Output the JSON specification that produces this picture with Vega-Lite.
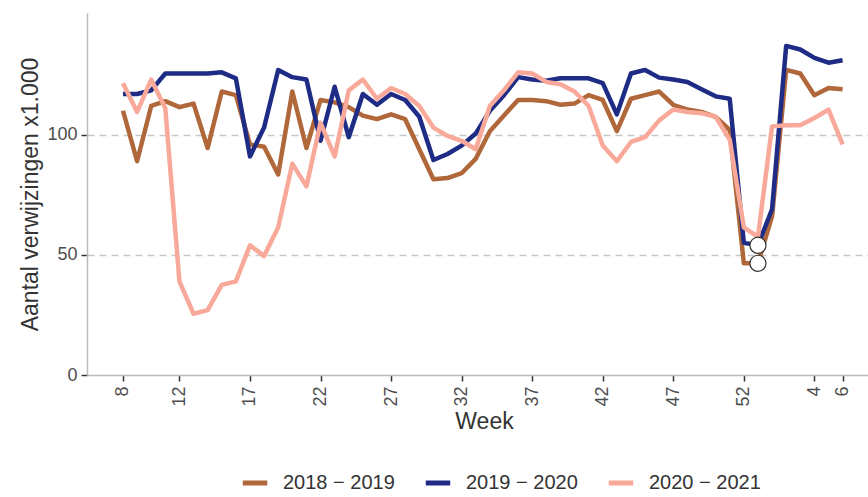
{
  "$schema": "https://vega.github.io/schema/vega-lite/v6.json",
  "width": 781,
  "height": 362,
  "autosize": {"type": "none"},
  "padding": {"left": 87, "top": 13, "right": 0, "bottom": 122},
  "background": "white",
  "config": {
    "view": {"stroke": null},
    "font": "Liberation Sans",
    "axis": {"labelFont": "Liberation Sans", "titleFont": "Liberation Sans", "titleFontWeight": "normal"}
  },
  "datasets": {
    "series": [
      {"season": "2018 − 2019", "i": 0, "week": 8, "value": 110},
      {"season": "2018 − 2019", "i": 1, "week": 9, "value": 89},
      {"season": "2018 − 2019", "i": 2, "week": 10, "value": 112},
      {"season": "2018 − 2019", "i": 3, "week": 11, "value": 114},
      {"season": "2018 − 2019", "i": 4, "week": 12, "value": 111.5},
      {"season": "2018 − 2019", "i": 5, "week": 13, "value": 113},
      {"season": "2018 − 2019", "i": 6, "week": 14, "value": 94.5},
      {"season": "2018 − 2019", "i": 7, "week": 15, "value": 118},
      {"season": "2018 − 2019", "i": 8, "week": 16, "value": 116.5},
      {"season": "2018 − 2019", "i": 9, "week": 17, "value": 96},
      {"season": "2018 − 2019", "i": 10, "week": 18, "value": 95},
      {"season": "2018 − 2019", "i": 11, "week": 19, "value": 83.5},
      {"season": "2018 − 2019", "i": 12, "week": 20, "value": 118},
      {"season": "2018 − 2019", "i": 13, "week": 21, "value": 94.5},
      {"season": "2018 − 2019", "i": 14, "week": 22, "value": 114.5},
      {"season": "2018 − 2019", "i": 15, "week": 23, "value": 113.5},
      {"season": "2018 − 2019", "i": 16, "week": 24, "value": 111.5},
      {"season": "2018 − 2019", "i": 17, "week": 25, "value": 108},
      {"season": "2018 − 2019", "i": 18, "week": 26, "value": 106.5},
      {"season": "2018 − 2019", "i": 19, "week": 27, "value": 108.5},
      {"season": "2018 − 2019", "i": 20, "week": 28, "value": 106.5},
      {"season": "2018 − 2019", "i": 21, "week": 29, "value": 94},
      {"season": "2018 − 2019", "i": 22, "week": 30, "value": 81.5},
      {"season": "2018 − 2019", "i": 23, "week": 31, "value": 82},
      {"season": "2018 − 2019", "i": 24, "week": 32, "value": 84},
      {"season": "2018 − 2019", "i": 25, "week": 33, "value": 90},
      {"season": "2018 − 2019", "i": 26, "week": 34, "value": 101.5},
      {"season": "2018 − 2019", "i": 27, "week": 35, "value": 108},
      {"season": "2018 − 2019", "i": 28, "week": 36, "value": 114.5},
      {"season": "2018 − 2019", "i": 29, "week": 37, "value": 114.5},
      {"season": "2018 − 2019", "i": 30, "week": 38, "value": 114},
      {"season": "2018 − 2019", "i": 31, "week": 39, "value": 112.5},
      {"season": "2018 − 2019", "i": 32, "week": 40, "value": 113},
      {"season": "2018 − 2019", "i": 33, "week": 41, "value": 116.5},
      {"season": "2018 − 2019", "i": 34, "week": 42, "value": 114.5},
      {"season": "2018 − 2019", "i": 35, "week": 43, "value": 101.5},
      {"season": "2018 − 2019", "i": 36, "week": 44, "value": 115},
      {"season": "2018 − 2019", "i": 37, "week": 45, "value": 116.5},
      {"season": "2018 − 2019", "i": 38, "week": 46, "value": 118},
      {"season": "2018 − 2019", "i": 39, "week": 47, "value": 112.5},
      {"season": "2018 − 2019", "i": 40, "week": 48, "value": 110.5},
      {"season": "2018 − 2019", "i": 41, "week": 49, "value": 109.5},
      {"season": "2018 − 2019", "i": 42, "week": 50, "value": 107.5},
      {"season": "2018 − 2019", "i": 43, "week": 51, "value": 102},
      {"season": "2018 − 2019", "i": 44, "week": 52, "value": 46.5},
      {"season": "2018 − 2019", "i": 45, "week": 53, "value": 46.5},
      {"season": "2018 − 2019", "i": 46, "week": 1, "value": 66},
      {"season": "2018 − 2019", "i": 47, "week": 2, "value": 127},
      {"season": "2018 − 2019", "i": 48, "week": 3, "value": 125.5},
      {"season": "2018 − 2019", "i": 49, "week": 4, "value": 116.5},
      {"season": "2018 − 2019", "i": 50, "week": 5, "value": 119.5},
      {"season": "2018 − 2019", "i": 51, "week": 6, "value": 119},
      {"season": "2019 − 2020", "i": 0, "week": 8, "value": 117},
      {"season": "2019 − 2020", "i": 1, "week": 9, "value": 117},
      {"season": "2019 − 2020", "i": 2, "week": 10, "value": 118.5},
      {"season": "2019 − 2020", "i": 3, "week": 11, "value": 125.5},
      {"season": "2019 − 2020", "i": 4, "week": 12, "value": 125.5},
      {"season": "2019 − 2020", "i": 5, "week": 13, "value": 125.5},
      {"season": "2019 − 2020", "i": 6, "week": 14, "value": 125.5},
      {"season": "2019 − 2020", "i": 7, "week": 15, "value": 126},
      {"season": "2019 − 2020", "i": 8, "week": 16, "value": 123.5},
      {"season": "2019 − 2020", "i": 9, "week": 17, "value": 91},
      {"season": "2019 − 2020", "i": 10, "week": 18, "value": 103},
      {"season": "2019 − 2020", "i": 11, "week": 19, "value": 127},
      {"season": "2019 − 2020", "i": 12, "week": 20, "value": 124},
      {"season": "2019 − 2020", "i": 13, "week": 21, "value": 123},
      {"season": "2019 − 2020", "i": 14, "week": 22, "value": 97.5},
      {"season": "2019 − 2020", "i": 15, "week": 23, "value": 120},
      {"season": "2019 − 2020", "i": 16, "week": 24, "value": 99},
      {"season": "2019 − 2020", "i": 17, "week": 25, "value": 117},
      {"season": "2019 − 2020", "i": 18, "week": 26, "value": 112.5},
      {"season": "2019 − 2020", "i": 19, "week": 27, "value": 117},
      {"season": "2019 − 2020", "i": 20, "week": 28, "value": 114.5},
      {"season": "2019 − 2020", "i": 21, "week": 29, "value": 107.5},
      {"season": "2019 − 2020", "i": 22, "week": 30, "value": 89.5},
      {"season": "2019 − 2020", "i": 23, "week": 31, "value": 92},
      {"season": "2019 − 2020", "i": 24, "week": 32, "value": 95.5},
      {"season": "2019 − 2020", "i": 25, "week": 33, "value": 100.5},
      {"season": "2019 − 2020", "i": 26, "week": 34, "value": 110},
      {"season": "2019 − 2020", "i": 27, "week": 35, "value": 116.5},
      {"season": "2019 − 2020", "i": 28, "week": 36, "value": 124},
      {"season": "2019 − 2020", "i": 29, "week": 37, "value": 123},
      {"season": "2019 − 2020", "i": 30, "week": 38, "value": 122.5},
      {"season": "2019 − 2020", "i": 31, "week": 39, "value": 123.5},
      {"season": "2019 − 2020", "i": 32, "week": 40, "value": 123.5},
      {"season": "2019 − 2020", "i": 33, "week": 41, "value": 123.5},
      {"season": "2019 − 2020", "i": 34, "week": 42, "value": 121.5},
      {"season": "2019 − 2020", "i": 35, "week": 43, "value": 108.5},
      {"season": "2019 − 2020", "i": 36, "week": 44, "value": 125.5},
      {"season": "2019 − 2020", "i": 37, "week": 45, "value": 127},
      {"season": "2019 − 2020", "i": 38, "week": 46, "value": 123.8},
      {"season": "2019 − 2020", "i": 39, "week": 47, "value": 123},
      {"season": "2019 − 2020", "i": 40, "week": 48, "value": 122},
      {"season": "2019 − 2020", "i": 41, "week": 49, "value": 119},
      {"season": "2019 − 2020", "i": 42, "week": 50, "value": 116},
      {"season": "2019 − 2020", "i": 43, "week": 51, "value": 115},
      {"season": "2019 − 2020", "i": 44, "week": 52, "value": 55},
      {"season": "2019 − 2020", "i": 45, "week": 53, "value": 54},
      {"season": "2019 − 2020", "i": 46, "week": 1, "value": 69},
      {"season": "2019 − 2020", "i": 47, "week": 2, "value": 137},
      {"season": "2019 − 2020", "i": 48, "week": 3, "value": 135.5},
      {"season": "2019 − 2020", "i": 49, "week": 4, "value": 132},
      {"season": "2019 − 2020", "i": 50, "week": 5, "value": 130},
      {"season": "2019 − 2020", "i": 51, "week": 6, "value": 131},
      {"season": "2020 − 2021", "i": 0, "week": 8, "value": 121.5},
      {"season": "2020 − 2021", "i": 1, "week": 9, "value": 109.5},
      {"season": "2020 − 2021", "i": 2, "week": 10, "value": 123},
      {"season": "2020 − 2021", "i": 3, "week": 11, "value": 111},
      {"season": "2020 − 2021", "i": 4, "week": 12, "value": 39},
      {"season": "2020 − 2021", "i": 5, "week": 13, "value": 25.5},
      {"season": "2020 − 2021", "i": 6, "week": 14, "value": 27},
      {"season": "2020 − 2021", "i": 7, "week": 15, "value": 37.5},
      {"season": "2020 − 2021", "i": 8, "week": 16, "value": 39},
      {"season": "2020 − 2021", "i": 9, "week": 17, "value": 54},
      {"season": "2020 − 2021", "i": 10, "week": 18, "value": 49.5},
      {"season": "2020 − 2021", "i": 11, "week": 19, "value": 61.5},
      {"season": "2020 − 2021", "i": 12, "week": 20, "value": 88},
      {"season": "2020 − 2021", "i": 13, "week": 21, "value": 78.5},
      {"season": "2020 − 2021", "i": 14, "week": 22, "value": 105},
      {"season": "2020 − 2021", "i": 15, "week": 23, "value": 91},
      {"season": "2020 − 2021", "i": 16, "week": 24, "value": 118.5},
      {"season": "2020 − 2021", "i": 17, "week": 25, "value": 123},
      {"season": "2020 − 2021", "i": 18, "week": 26, "value": 115},
      {"season": "2020 − 2021", "i": 19, "week": 27, "value": 119.5},
      {"season": "2020 − 2021", "i": 20, "week": 28, "value": 117},
      {"season": "2020 − 2021", "i": 21, "week": 29, "value": 112},
      {"season": "2020 − 2021", "i": 22, "week": 30, "value": 103},
      {"season": "2020 − 2021", "i": 23, "week": 31, "value": 99.5},
      {"season": "2020 − 2021", "i": 24, "week": 32, "value": 97.5},
      {"season": "2020 − 2021", "i": 25, "week": 33, "value": 94},
      {"season": "2020 − 2021", "i": 26, "week": 34, "value": 112},
      {"season": "2020 − 2021", "i": 27, "week": 35, "value": 118.5},
      {"season": "2020 − 2021", "i": 28, "week": 36, "value": 126},
      {"season": "2020 − 2021", "i": 29, "week": 37, "value": 125.5},
      {"season": "2020 − 2021", "i": 30, "week": 38, "value": 122},
      {"season": "2020 − 2021", "i": 31, "week": 39, "value": 121},
      {"season": "2020 − 2021", "i": 32, "week": 40, "value": 118},
      {"season": "2020 − 2021", "i": 33, "week": 41, "value": 112},
      {"season": "2020 − 2021", "i": 34, "week": 42, "value": 95.5},
      {"season": "2020 − 2021", "i": 35, "week": 43, "value": 89},
      {"season": "2020 − 2021", "i": 36, "week": 44, "value": 97},
      {"season": "2020 − 2021", "i": 37, "week": 45, "value": 99},
      {"season": "2020 − 2021", "i": 38, "week": 46, "value": 106},
      {"season": "2020 − 2021", "i": 39, "week": 47, "value": 110.5},
      {"season": "2020 − 2021", "i": 40, "week": 48, "value": 109.5},
      {"season": "2020 − 2021", "i": 41, "week": 49, "value": 109},
      {"season": "2020 − 2021", "i": 42, "week": 50, "value": 107.5},
      {"season": "2020 − 2021", "i": 43, "week": 51, "value": 98},
      {"season": "2020 − 2021", "i": 44, "week": 52, "value": 61.5},
      {"season": "2020 − 2021", "i": 45, "week": 53, "value": 57.5},
      {"season": "2020 − 2021", "i": 46, "week": 1, "value": 103.5},
      {"season": "2020 − 2021", "i": 47, "week": 2, "value": 104},
      {"season": "2020 − 2021", "i": 48, "week": 3, "value": 104},
      {"season": "2020 − 2021", "i": 49, "week": 4, "value": 107},
      {"season": "2020 − 2021", "i": 50, "week": 5, "value": 110.5},
      {"season": "2020 − 2021", "i": 51, "week": 6, "value": 96}
    ],
    "marked": [
      {"season": "2019 − 2020", "i": 45, "week": 53, "value": 54},
      {"season": "2018 − 2019", "i": 45, "week": 53, "value": 46.5}
    ]
  },
  "layer": [
    {
      "data": {"name": "series"},
      "mark": {"type": "line", "strokeWidth": 4.5, "strokeJoin": "round", "strokeCap": "butt"},
      "encoding": {
        "x": {
          "field": "i",
          "type": "quantitative",
          "scale": {"domain": [-2.55, 52.8], "nice": false, "zero": false},
          "axis": {
            "title": "Week",
            "titleFontSize": 23,
            "titleColor": "#333333",
            "titleX": 397,
            "titlePadding": 4,
            "values": [0, 4, 9, 14, 19, 24, 29, 34, 39, 44, 49, 51],
            "labelExpr": "datum.value <= 45 ? datum.value + 8 : datum.value - 45",
            "labelAngle": 270,
            "labelFontSize": 18,
            "labelColor": "#4d4d4d",
            "labelPadding": 5,
            "tickColor": "#333333",
            "tickSize": 6,
            "tickWidth": 1.5,
            "domainColor": "#bbbbbb",
            "domainWidth": 1.5,
            "grid": false
          }
        },
        "y": {
          "field": "value",
          "type": "quantitative",
          "scale": {"domain": [0, 150.7], "nice": false},
          "axis": {
            "title": "Aantal verwijzingen x1.000",
            "titleFontSize": 23,
            "titleColor": "#333333",
            "titlePadding": 4,
            "values": [0, 50, 100],
            "labelFontSize": 18,
            "labelColor": "#4d4d4d",
            "labelPadding": 4,
            "tickColor": "#333333",
            "tickSize": 6,
            "tickWidth": 1.5,
            "domainColor": "#bbbbbb",
            "domainWidth": 1.5,
            "grid": true,
            "gridDash": [7, 5],
            "gridColor": "#c8c8c8",
            "gridWidth": 1.5,
            "gridOpacity": {"condition": {"test": "datum.value === 0", "value": 0}, "value": 1}
          }
        },
        "color": {
          "field": "season",
          "type": "nominal",
          "scale": {
            "domain": ["2018 − 2019", "2019 − 2020", "2020 − 2021"],
            "range": ["#b0673a", "#1e2c86", "#f8a999"]
          },
          "legend": {
            "title": null,
            "orient": "none",
            "legendX": 153,
            "legendY": 455,
            "direction": "horizontal",
            "symbolType": "stroke",
            "symbolStrokeWidth": 5,
            "symbolSize": 600,
            "labelFontSize": 20,
            "labelColor": "#333333",
            "labelOffset": 13,
            "columnPadding": 20
          }
        }
      }
    },
    {
      "data": {"name": "marked"},
      "mark": {"type": "point", "filled": true, "fill": "white", "stroke": "#333333", "strokeWidth": 1.2, "size": 260, "opacity": 1},
      "encoding": {
        "x": {"field": "i", "type": "quantitative"},
        "y": {"field": "value", "type": "quantitative"}
      }
    }
  ]
}
